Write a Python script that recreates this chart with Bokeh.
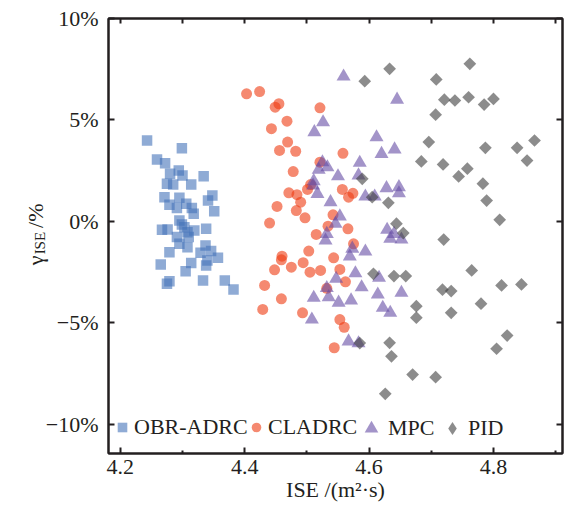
import numpy as np
from bokeh.plotting import figure
from bokeh.models import (Range1d, FixedTicker, LinearAxis, Legend, LegendItem, Label,
                          CustomLabelingPolicy)
from bokeh.embed import file_html
from bokeh.resources import INLINE

# ---- data (ISE, gamma_ISE in %) ----
obr_x = [4.243, 4.299, 4.259, 4.272, 4.294, 4.280, 4.300, 4.334, 4.275, 4.285, 4.314, 4.271,
         4.295, 4.348, 4.341, 4.279, 4.291, 4.306, 4.315, 4.318, 4.351, 4.295, 4.299, 4.303,
         4.267, 4.276, 4.319, 4.338, 4.308, 4.291, 4.310, 4.295, 4.308, 4.337, 4.279, 4.329,
         4.346, 4.357, 4.340, 4.338, 4.265, 4.314, 4.305, 4.279, 4.275, 4.333, 4.368, 4.382]
obr_y = [3.99, 3.61, 3.05, 2.87, 2.51, 2.35, 2.27, 2.23, 1.86, 1.82, 1.82, 1.20,
         1.17, 1.28, 1.03, 0.82, 0.67, 0.87, 0.66, 0.38, 0.51, 0.05, -0.15, -0.28,
         -0.41, -0.39, -0.44, -0.36, -0.53, -0.77, -0.77, -1.10, -1.27, -1.18, -1.51, -1.54,
         -1.46, -1.79, -1.92, -2.17, -2.12, -2.05, -2.45, -2.94, -3.07, -2.91, -2.91, -3.35]

cla_x = [4.403, 4.424, 4.449, 4.455, 4.521, 4.468, 4.443, 4.469, 4.456, 4.482, 4.558, 4.521,
         4.478, 4.557, 4.574, 4.567, 4.471, 4.484, 4.490, 4.501, 4.506, 4.452, 4.483, 4.497,
         4.542, 4.440, 4.534, 4.566, 4.515, 4.575, 4.503, 4.460, 4.459, 4.543, 4.494, 4.448,
         4.475, 4.505, 4.522, 4.553, 4.562, 4.432, 4.532, 4.459, 4.429, 4.493, 4.553, 4.560, 4.544]
cla_y = [6.29, 6.40, 5.63, 5.80, 5.60, 4.94, 4.57, 3.91, 3.50, 3.46, 3.36, 2.92,
         2.46, 1.58, 1.39, 1.20, 1.41, 1.32, 0.95, 1.58, 1.82, 0.74, 0.54, 0.18,
         0.33, -0.08, -0.23, -0.36, -0.64, -1.10, -1.46, -1.71, -1.89, -1.79, -2.03, -2.38,
         -2.25, -2.50, -2.41, -2.36, -2.97, -3.15, -3.29, -3.81, -4.33, -4.50, -4.83, -5.21, -6.22]

mpc_x = [4.559, 4.645, 4.526, 4.512, 4.612, 4.641, 4.620, 4.585, 4.525, 4.533, 4.519, 4.550,
         4.583, 4.511, 4.510, 4.517, 4.538, 4.628, 4.648, 4.648, 4.594, 4.609, 4.553, 4.546,
         4.532, 4.530, 4.629, 4.640, 4.634, 4.652, 4.573, 4.569, 4.594, 4.578, 4.547, 4.616,
         4.588, 4.614, 4.652, 4.511, 4.535, 4.551, 4.571, 4.622, 4.634, 4.508, 4.567, 4.583, 4.532]
mpc_y = [7.14, 6.00, 4.89, 4.40, 4.15, 3.55, 3.33, 2.89, 2.92, 2.67, 2.55, 2.23,
         2.27, 1.99, 1.77, 1.36, 0.95, 1.64, 1.69, 1.39, 1.23, 1.23, 0.25, -0.11,
         -0.61, -0.94, -0.41, -0.61, -0.85, -0.89, -1.34, -1.72, -1.48, -2.55, -2.82, -2.77,
         -3.24, -3.60, -3.51, -3.76, -3.73, -4.00, -3.89, -4.25, -4.50, -4.83, -5.91, -6.00, -3.28]

pid_x = [4.633, 4.593, 4.762, 4.708, 4.721, 4.738, 4.760, 4.785, 4.800, 4.707, 4.696, 4.787,
         4.838, 4.866, 4.854, 4.684, 4.719, 4.758, 4.744, 4.783, 4.789, 4.810, 4.589, 4.605,
         4.631, 4.644, 4.655, 4.720, 4.607, 4.640, 4.659, 4.765, 4.718, 4.732, 4.813, 4.845,
         4.676, 4.676, 4.780, 4.732, 4.822, 4.805, 4.585, 4.633, 4.636, 4.670, 4.707, 4.626]
pid_y = [7.52, 6.91, 7.77, 7.00, 6.00, 5.96, 6.12, 5.76, 6.04, 5.26, 3.91, 3.63,
         3.63, 3.99, 3.00, 2.96, 2.81, 2.60, 2.22, 1.86, 1.03, 0.08, 2.10, 1.20,
         0.92, -0.11, -0.57, -0.89, -2.58, -2.69, -2.69, -2.41, -3.36, -3.43, -3.15, -3.10,
         -4.17, -4.74, -4.05, -4.50, -5.62, -6.27, -5.99, -5.98, -6.64, -7.54, -7.67, -8.49]

series_names = ["OBR-ADRC", "CLADRC", "MPC", "PID"]
x_ticks = [4.2, 4.4, 4.6, 4.8]
x_minor = [4.3, 4.5, 4.7, 4.9]
y_ticks = [-10, -5, 0, 5, 10]
y_tick_labels = {-10: "\u221210%", -5: "\u22125%", 0: "0%", 5: "5%", 10: "10%"}

FONT = "Liberation Serif"
INK = "#231F20"

p = figure(width=567, height=508, output_backend="svg", toolbar_location=None,
           x_range=Range1d(4.181, 4.911), y_range=Range1d(-11.43, 10),
           min_border_left=108, min_border_right=5, min_border_top=18, min_border_bottom=55)
p.extra_x_ranges = {"key": Range1d(0, 1)}   # used only to keep the legend key glyph off-frame
p.xgrid.visible = False
p.ygrid.visible = False
p.outline_line_color = INK
p.outline_line_width = 2
p.background_fill_color = "white"

no_labels = CustomLabelingPolicy(code="""
    const all = [...indices]
    for (const i of all) indices.unset(i)
    return indices
""")

def style_axis(ax, labels=True):
    ax.axis_line_color = INK
    ax.axis_line_width = 2
    ax.major_tick_line_color = INK
    ax.major_tick_line_width = 2
    ax.minor_tick_line_color = INK
    ax.minor_tick_line_width = 2
    ax.major_tick_in = 6
    ax.major_tick_out = 0
    ax.minor_tick_in = 3
    ax.minor_tick_out = 0
    ax.major_label_text_font = FONT
    ax.major_label_text_color = INK
    if labels:
        ax.major_label_text_font_size = "22px"
    else:
        ax.major_label_text_font_size = "0px"
        ax.major_label_policy = no_labels
        ax.major_label_standoff = 0

xa = p.xaxis[0]
xa.ticker = FixedTicker(ticks=x_ticks, minor_ticks=x_minor)
style_axis(xa)
xa.major_label_standoff = 6
xa.axis_label = "ISE /(m\u00b2\u00b7s)"
xa.axis_label_text_font = FONT
xa.axis_label_text_font_style = "normal"
xa.axis_label_text_font_size = "22px"
xa.axis_label_text_color = INK
xa.axis_label_standoff = 0

ya = p.yaxis[0]
ya.ticker = FixedTicker(ticks=y_ticks, minor_ticks=[])
ya.major_label_overrides = y_tick_labels
style_axis(ya)
ya.major_label_standoff = 10

top = LinearAxis(ticker=FixedTicker(ticks=x_ticks + x_minor, minor_ticks=[]))
style_axis(top, labels=False)
top.major_tick_in = 5
p.add_layout(top, "above")
right = LinearAxis(ticker=FixedTicker(ticks=y_ticks, minor_ticks=[]))
style_axis(right, labels=False)
p.add_layout(right, "right")

ALPHA = 0.6
r1 = p.scatter(obr_x, obr_y, marker="square", size=10.5, fill_color="#4473B9",
               fill_alpha=ALPHA, line_color=None)
r2 = p.scatter(cla_x, cla_y, marker="circle", size=11, fill_color="#EF3A10",
               fill_alpha=ALPHA, line_color=None)
r3 = p.scatter(mpc_x, mpc_y, marker="triangle", size=14, fill_color="#664DA5",
               fill_alpha=ALPHA, line_color=None)
r4 = p.scatter(pid_x, pid_y, marker="square", angle=np.pi / 4, size=9, fill_color="#404040",
               fill_alpha=ALPHA, line_color=None)
# legend key for PID (diamond shape); its single point maps outside the frame
r4_key = p.scatter(pid_x[:1], pid_y[:1], marker="diamond", size=13, fill_color="#404040",
                   fill_alpha=ALPHA, line_color=None, x_range_name="key")

legend_specs = [(r1, series_names[0], 2, 24, 13, 0),
                (r2, series_names[1], 136, 24, 13, 0),
                (r3, series_names[2], 246, 34, 8, -5),
                (r4_key, series_names[3], 328, 32, 9, -5)]
for r, name, xloc, gsize, yloc, stand in legend_specs:
    lg = Legend(items=[LegendItem(label=name, renderers=[r])], location=(xloc, yloc),
                orientation="horizontal", background_fill_alpha=0, border_line_color=None,
                padding=0, margin=0, glyph_width=gsize, glyph_height=gsize,
                label_standoff=stand, label_text_font=FONT, label_text_font_size="22px",
                label_text_color=INK, label_height=gsize)
    p.add_layout(lg, "center")

# y-axis label: "γ" ... "/%" as one text, subscript "ISE" as a second, smaller one
p.add_layout(Label(x=35, y=-2.15, x_units="canvas", y_units="data",
                   text="\u03b3" + "\u00a0" * 5 + "/%",
                   angle=np.pi / 2, text_font=FONT, text_font_size="22px", text_color=INK,
                   text_align="left", text_baseline="alphabetic"), "left")
p.add_layout(Label(x=39, y=-1.62, x_units="canvas", y_units="data", text="ISE",
                   angle=np.pi / 2, text_font=FONT, text_font_size="15px", text_color=INK,
                   text_align="left", text_baseline="alphabetic"), "left")

open("out.html", "w").write(file_html(p, INLINE))
